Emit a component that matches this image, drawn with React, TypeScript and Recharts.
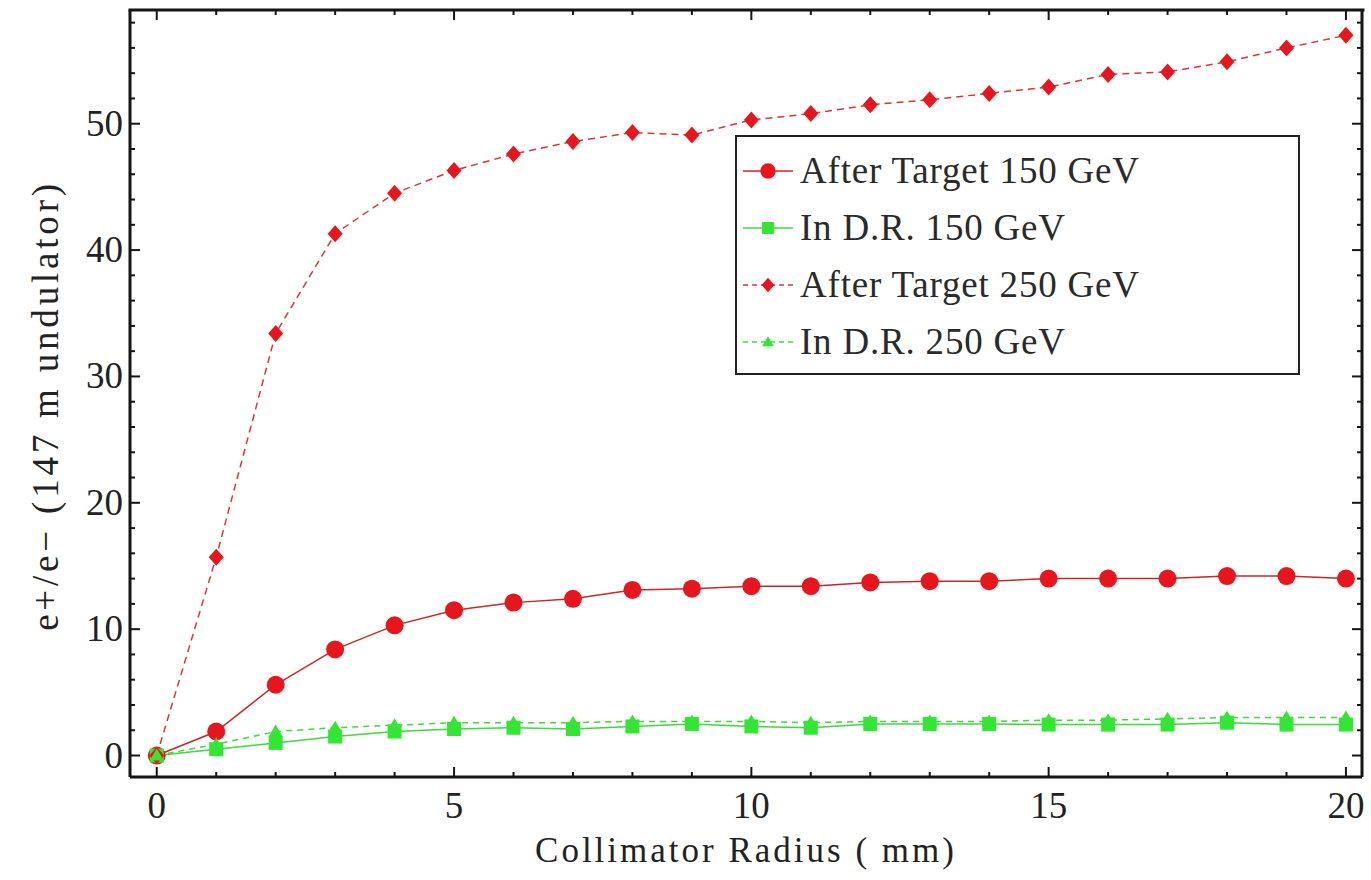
import React from 'react';
import { LineChart, Line, XAxis, YAxis, Label } from 'recharts';

// collimator radius (mm)
const radius = [0, 1, 2, 3, 4, 5, 6, 7, 8, 9, 10, 11, 12, 13, 14, 15, 16, 17, 18, 19, 20];

// e+/e- yield for the 147 m undulator
const afterTarget150 = [0, 1.9, 5.6, 8.4, 10.3, 11.5, 12.1, 12.4, 13.1, 13.2, 13.4, 13.4, 13.7, 13.8, 13.8, 14.0, 14.0, 14.0, 14.2, 14.2, 14.0];
const inDR150 = [0, 0.5, 1.0, 1.5, 1.9, 2.1, 2.2, 2.1, 2.3, 2.5, 2.3, 2.2, 2.5, 2.5, 2.5, 2.45, 2.45, 2.45, 2.6, 2.45, 2.45];
const afterTarget250 = [0, 15.7, 33.4, 41.3, 44.5, 46.3, 47.6, 48.6, 49.3, 49.1, 50.3, 50.8, 51.5, 51.9, 52.4, 52.9, 53.9, 54.1, 54.9, 56.0, 57.0];
const inDR250 = [0, 0.9, 1.9, 2.2, 2.4, 2.6, 2.6, 2.6, 2.7, 2.7, 2.7, 2.6, 2.7, 2.7, 2.7, 2.8, 2.8, 2.9, 3.0, 3.0, 3.0];

const xTicks = [0, 1, 2, 3, 4, 5, 6, 7, 8, 9, 10, 11, 12, 13, 14, 15, 16, 17, 18, 19, 20];
const xLabels = [0, 5, 10, 15, 20];
const yTicks = [0, 2, 4, 6, 8, 10, 12, 14, 16, 18, 20, 22, 24, 26, 28, 30, 32, 34, 36, 38, 40, 42, 44, 46, 48, 50, 52, 54, 56, 58];
const yLabels = [0, 10, 20, 30, 40, 50];

const data = radius.map((r, i) => ({
  r,
  at150: afterTarget150[i],
  dr150: inDR150[i],
  at250: afterTarget250[i],
  dr250: inDR250[i],
}));

const FONT = '"Liberation Serif", "Times New Roman", serif';
const RED = '#e8161c';
const GREEN = '#33e633';
const AXIS = '#151515';
const X_DOMAIN: [number, number] = [-0.45, 20.27];
const Y_DOMAIN: [number, number] = [-1.7, 59];

// plot box: 130..1363 wide, 10..777 high
const PLOT_W = 1233;
const PLOT_H = 767;

// the extra tick at the top of the y range carries the top edge of the frame
const yAxisTicks = [...yTicks, Y_DOMAIN[1]];

type Shape = 'circle' | 'square' | 'diamond' | 'triangle';

const Marker = ({ cx, cy, shape, color, s = 1 }: { cx: number; cy: number; shape: Shape; color: string; s?: number }) => {
  if (cx == null || cy == null) return null;
  if (shape === 'circle') return <circle cx={cx} cy={cy} r={9 * s} fill={color} />;
  if (shape === 'square') {
    const h = 7 * s;
    return <rect x={cx - h} y={cy - h} width={2 * h} height={2 * h} fill={color} />;
  }
  if (shape === 'diamond') {
    const w = 7.5 * s;
    const h = 8.5 * s;
    return <polygon points={`${cx},${cy - h} ${cx + w},${cy} ${cx},${cy + h} ${cx - w},${cy}`} fill={color} />;
  }
  const t = 7 * s;
  return <polygon points={`${cx},${cy - t} ${cx + t},${cy + t * 0.7} ${cx - t},${cy + t * 0.7}`} fill={color} />;
};

const series = [
  { key: 'at150', name: 'After Target 150 GeV', line: '#c22a2a', marker: RED, shape: 'circle' as Shape, dash: undefined },
  { key: 'dr150', name: 'In D.R. 150 GeV', line: '#3fd83f', marker: GREEN, shape: 'square' as Shape, dash: undefined },
  { key: 'at250', name: 'After Target 250 GeV', line: '#d6363a', marker: RED, shape: 'diamond' as Shape, dash: '7 5' },
  { key: 'dr250', name: 'In D.R. 250 GeV', line: '#3fd83f', marker: GREEN, shape: 'triangle' as Shape, dash: '6 5' },
];

// ticks point inward; labels only on the major ones.
// bottom ticks also draw the matching inward tick on the top edge
const BottomTick = (props: any) => {
  const { x, y, payload } = props;
  const major = xLabels.includes(payload.value);
  const len = major ? 10 : 5;
  const top = y - PLOT_H;
  return (
    <g>
      <line x1={x} y1={y} x2={x} y2={y - len} stroke={AXIS} strokeWidth={2} />
      <line x1={x} y1={top} x2={x} y2={top + len} stroke={AXIS} strokeWidth={2} />
      {major && (
        <text x={x} y={y + 41} textAnchor="middle" fontFamily={FONT} fontSize={37} fill="#222">
          {payload.value}
        </text>
      )}
    </g>
  );
};

const LeftTick = (props: any) => {
  const { x, y, payload } = props;
  if (payload.value === Y_DOMAIN[1]) {
    return <line x1={x - 1.5} y1={y} x2={x + PLOT_W + 1.5} y2={y} stroke={AXIS} strokeWidth={3} />;
  }
  const major = yLabels.includes(payload.value);
  return (
    <g>
      <line x1={x} y1={y} x2={x + (major ? 10 : 5)} y2={y} stroke={AXIS} strokeWidth={2} />
      {major && (
        <text x={x - 7} y={y + 12} textAnchor="end" fontFamily={FONT} fontSize={37} fill="#222">
          {payload.value}
        </text>
      )}
    </g>
  );
};

const RightTick = (props: any) => {
  const { x, y, payload } = props;
  if (payload.value === Y_DOMAIN[1]) return <g />;
  const major = yLabels.includes(payload.value);
  return <line x1={x} y1={y} x2={x - (major ? 10 : 5)} y2={y} stroke={AXIS} strokeWidth={2} />;
};

const LegendBox = () => (
  <div
    style={{
      position: 'absolute',
      left: 735,
      top: 135,
      width: 565,
      height: 240,
      border: '2px solid #222',
      background: '#fff',
      boxSizing: 'border-box',
      paddingTop: 5,
    }}
  >
    {series.map((s) => (
      <div key={s.key} style={{ display: 'flex', alignItems: 'center', height: 57 }}>
        <svg width={50} height={30} style={{ marginLeft: 6, marginRight: 7 }}>
          <line x1={0} y1={15} x2={50} y2={15} stroke={s.line} strokeWidth={1.5} strokeDasharray={s.dash ? '5 4' : undefined} />
          <Marker cx={25} cy={15} shape={s.shape} color={s.marker} s={0.85} />
        </svg>
        <span style={{ fontFamily: FONT, fontSize: 37, letterSpacing: 0.8, color: '#2a2a2a', whiteSpace: 'nowrap' }}>{s.name}</span>
      </div>
    ))}
  </div>
);

export default function App() {
  return (
    <div style={{ position: 'absolute', left: 0, top: 0, width: 1371, height: 880, background: '#fff' }}>
      <LineChart width={1371} height={880} data={data} margin={{ top: 10, right: 8, left: 0, bottom: 0 }}>
        <XAxis
          dataKey="r"
          type="number"
          domain={X_DOMAIN}
          ticks={xTicks}
          allowDataOverflow
          height={103}
          tickLine={false}
          tickSize={0}
          tickMargin={0}
          interval={0}
          tick={<BottomTick />}
          axisLine={{ stroke: AXIS, strokeWidth: 3 }}
        >
          <Label
            content={({ viewBox }: any) => (
              <text
                x={viewBox.x + viewBox.width / 2}
                y={862}
                textAnchor="middle"
                fontFamily={FONT}
                fontSize={35}
                letterSpacing={3}
                fill="#222"
              >
                Collimator Radius ( mm)
              </text>
            )}
          />
        </XAxis>
        <YAxis
          type="number"
          domain={Y_DOMAIN}
          ticks={yAxisTicks}
          allowDataOverflow
          width={130}
          tickLine={false}
          tickSize={0}
          tickMargin={0}
          interval={0}
          tick={<LeftTick />}
          axisLine={{ stroke: AXIS, strokeWidth: 3 }}
        >
          <Label
            content={({ viewBox }: any) => (
              <text
                transform={`translate(45, ${viewBox.y + viewBox.height / 2 + 12}) rotate(-90)`}
                textAnchor="middle"
                dominantBaseline="central"
                fontFamily={FONT}
                fontSize={37}
                letterSpacing={3.8}
                fill="#222"
              >
                e+/e− (147 m undulator)
              </text>
            )}
          />
        </YAxis>
        <YAxis
          yAxisId="right"
          orientation="right"
          type="number"
          domain={Y_DOMAIN}
          ticks={yAxisTicks}
          allowDataOverflow
          width={1}
          tickLine={false}
          tickSize={0}
          tickMargin={0}
          interval={0}
          tick={<RightTick />}
          axisLine={{ stroke: AXIS, strokeWidth: 3 }}
        />
        {/* invisible series so the mirrored right axis gets drawn */}
        <Line
          dataKey="at150"
          yAxisId="right"
          stroke="none"
          dot={false}
          activeDot={false}
          legendType="none"
          isAnimationActive={false}
        />
        {series.map((s) => (
          <Line
            key={s.key}
            dataKey={s.key}
            name={s.name}
            type="linear"
            stroke={s.line}
            strokeWidth={1.5}
            strokeDasharray={s.dash}
            isAnimationActive={false}
            dot={(p: any) => <Marker key={`${s.key}-${p.index}`} cx={p.cx} cy={p.cy} shape={s.shape} color={s.marker} />}
            activeDot={false}
          />
        ))}
      </LineChart>
      <LegendBox />
    </div>
  );
}
